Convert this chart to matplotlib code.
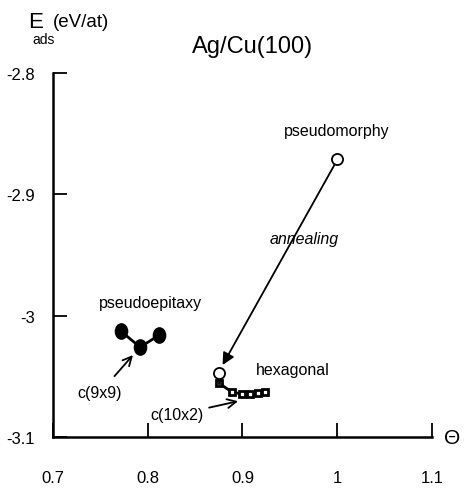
import matplotlib
matplotlib.use("Agg")
import matplotlib.pyplot as plt
from matplotlib.path import Path
from matplotlib.transforms import Affine2D

plt.rcParams['font.family'] = ['Liberation Sans', 'DejaVu Sans']

# coverage Theta and adsorption energy (eV/at)
epitaxy_theta = [0.772, 0.792, 0.812]
epitaxy_e = [-3.013, -3.026, -3.016]

hex_theta = [0.875, 0.875, 0.889, 0.8995, 0.908, 0.916, 0.924]
hex_e = [-3.047, -3.0556, -3.063, -3.0646, -3.0646, -3.0638, -3.063]

morph_theta = [1.0]
morph_e = [-2.871]

xticks = [0.7, 0.8, 0.9, 1.0, 1.1]
xticklabels = ['0.7', '0.8', '0.9', '1', '1.1']
yticks = [-3.1, -3.0, -2.9, -2.8]
yticklabels = ['-3.1', '-3', '-2.9', '-2.8']

# slightly tall ellipse for the filled points
ellipse = Path.unit_circle().transformed(Affine2D().scale(0.8, 1.0))

fig = plt.figure(figsize=(4.69, 4.89), dpi=100)
ax = fig.add_axes([0.113, 0.1043, 0.808, 0.7444])

ax.plot(epitaxy_theta, epitaxy_e, '-', color='k', lw=2, marker=ellipse, ms=11,
        mfc='k', mec='k')
ax.plot(hex_theta[1:], hex_e[1:], '-', color='k', lw=2, marker='s', ms=4,
        mfc='white', mec='k', mew=2)
ax.plot(hex_theta[:2], hex_e[:2], '-', color='k', lw=2)
ax.plot(hex_theta[:1], hex_e[:1], 'o', ms=8, mfc='white', mec='k', mew=1.3)
ax.plot(morph_theta, morph_e, 'o', ms=8, mfc='white', mec='k', mew=1.3, zorder=5)

# annealing arrow
ax.annotate('', xy=(0.879, -3.0407), xytext=(0.9976, -2.875),
            arrowprops=dict(arrowstyle='-|>', color='k', lw=1.3,
                            mutation_scale=18, shrinkA=0, shrinkB=0))
ax.text(0.965, -2.936, 'annealing', style='italic', fontsize=11.5,
        ha='center', va='center')

ax.annotate('c(9x9)', xy=(0.7844, -3.0325), xytext=(0.7496, -3.0635),
            fontsize=11.5, ha='center', va='center',
            arrowprops=dict(arrowstyle='->', color='k', lw=1.3,
                            mutation_scale=16, shrinkA=6, shrinkB=0))
ax.annotate('c(10x2)', xy=(0.8953, -3.0705), xytext=(0.8309, -3.0817),
            fontsize=11.5, ha='center', va='center',
            arrowprops=dict(arrowstyle='->', color='k', lw=1.3,
                            mutation_scale=16, shrinkA=2, shrinkB=0))

ax.text(0.8025, -2.9895, 'pseudoepitaxy', fontsize=11.5, ha='center', va='center')
ax.text(0.9535, -3.0445, 'hexagonal', fontsize=11.5, ha='center', va='center')
ax.text(1.0, -2.847, 'pseudomorphy', fontsize=11.5, ha='center', va='center')

ax.set_xlim(0.7, 1.1)
ax.set_ylim(-3.1, -2.8)
ax.set_xticks(xticks)
ax.set_xticklabels(xticklabels)
ax.set_yticks(yticks)
ax.set_yticklabels(yticklabels)
ax.tick_params(axis='both', direction='in', length=10, width=1.3, labelsize=12)
ax.tick_params(axis='x', pad=24)
ax.tick_params(axis='y', pad=13)
for side in ['top', 'right']:
    ax.spines[side].set_visible(False)
for side in ['left', 'bottom']:
    ax.spines[side].set_linewidth(1.8)

fig.text(0.538, 0.904, 'Ag/Cu(100)', fontsize=17, ha='center', va='center')
fig.text(0.060, 0.953, 'E', fontsize=16, ha='left', va='center')
fig.text(0.070, 0.918, 'ads', fontsize=10, ha='left', va='center')
fig.text(0.113, 0.953, '(eV/at)', fontsize=13.5, ha='left', va='center')
fig.text(0.964, 0.104, 'Θ', fontsize=15, ha='center', va='center')

fig.savefig('out.png', dpi=100)
